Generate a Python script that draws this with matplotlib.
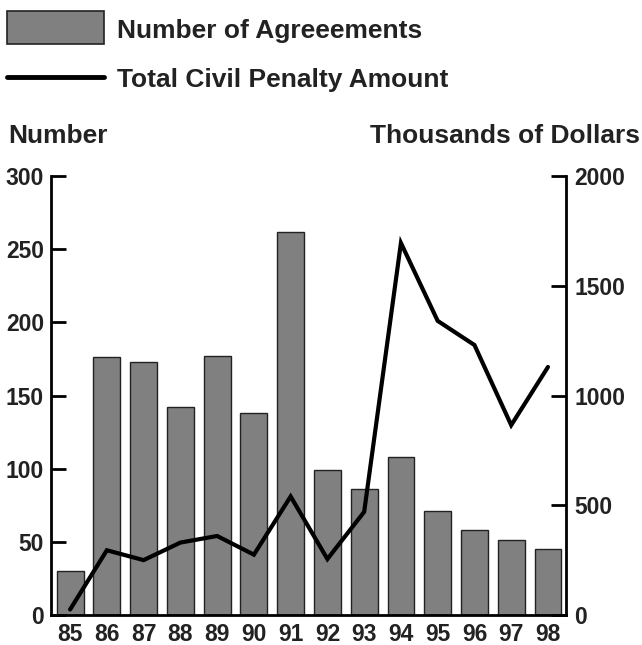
import numpy as np
import matplotlib.pyplot as plt
from matplotlib import font_manager
from matplotlib.patches import Rectangle
from matplotlib.lines import Line2D

# data
years = ['85', '86', '87', '88', '89', '90', '91', '92', '93', '94', '95', '96', '97', '98']
agreements = [30, 176, 173, 142, 177, 138, 262, 99, 86, 108, 71, 58, 51, 45]
penalty = [25, 295, 250, 330, 360, 275, 540, 255, 470, 1695, 1340, 1230, 865, 1130]

FONT = 'Liberation Sans'
names = {f.name for f in font_manager.fontManager.ttflist}
NARROW = 'Liberation Sans Narrow' if 'Liberation Sans Narrow' in names else FONT
TICK_SIZE = 18.5 if NARROW != FONT else 16.5
plt.rcParams['font.family'] = FONT
plt.rcParams['font.weight'] = 'bold'
TXT = '#222222'

fig = plt.figure(figsize=(6.42, 6.45), dpi=100)
ax = fig.add_axes([0.0794, 0.0465, 0.8022, 0.6806])
x = np.arange(len(years))

ax.bar(x, agreements, width=0.73, color='#808080', edgecolor=TXT, linewidth=1.0)
ax.set_xlim(-0.52, 13.49)
ax.set_ylim(0, 300)
ax.set_yticks([0, 50, 100, 150, 200, 250, 300])
ax.set_xticks(x)
ax.set_xticklabels(years)

ax2 = ax.twinx()
ax2.plot(x, penalty, color='black', linewidth=3, solid_capstyle='round', solid_joinstyle='miter')
ax2.set_ylim(0, 2000)
ax2.set_yticks([0, 500, 1000, 1500, 2000])

for a in (ax, ax2):
    a.spines['top'].set_visible(False)
    for s in a.spines.values():
        s.set_linewidth(2)
ax.spines['right'].set_visible(False)
ax2.spines['left'].set_visible(False)
ax2.spines['bottom'].set_visible(False)

ax.tick_params(axis='y', direction='in', length=11, width=2, pad=5)
ax.tick_params(axis='x', length=0, pad=6)
ax2.tick_params(axis='y', direction='in', length=11, width=2, pad=6)
for lab in ax.get_yticklabels() + ax.get_xticklabels() + ax2.get_yticklabels():
    lab.set_fontfamily(NARROW)
    lab.set_fontsize(TICK_SIZE)
    lab.set_fontweight('bold')
    lab.set_color(TXT)

# axis headers
fig.text(8 / 642, 1 - 143 / 645, 'Number', fontsize=19, fontweight='bold', color=TXT, va='baseline', ha='left')
fig.text(640 / 642, 1 - 143 / 645, 'Thousands of Dollars', fontsize=19, fontweight='bold', color=TXT, va='baseline', ha='right')

# legend drawn manually at the top
fig.patches.append(Rectangle((7 / 642, 1 - 44 / 645), 97 / 642, 33 / 645, transform=fig.transFigure,
                             facecolor='#808080', edgecolor=TXT, linewidth=1.2))
fig.lines.append(Line2D([7 / 642, 104 / 642], [1 - 77 / 645, 1 - 77 / 645], transform=fig.transFigure,
                        color='black', linewidth=3.5, solid_capstyle='round'))
fig.text(117 / 642, 1 - 38 / 645, 'Number of Agreeements', fontsize=19, fontweight='bold', color=TXT, va='baseline')
fig.text(117 / 642, 1 - 87 / 645, 'Total Civil Penalty Amount', fontsize=19, fontweight='bold', color=TXT, va='baseline')

fig.savefig('out.png', dpi=100)
